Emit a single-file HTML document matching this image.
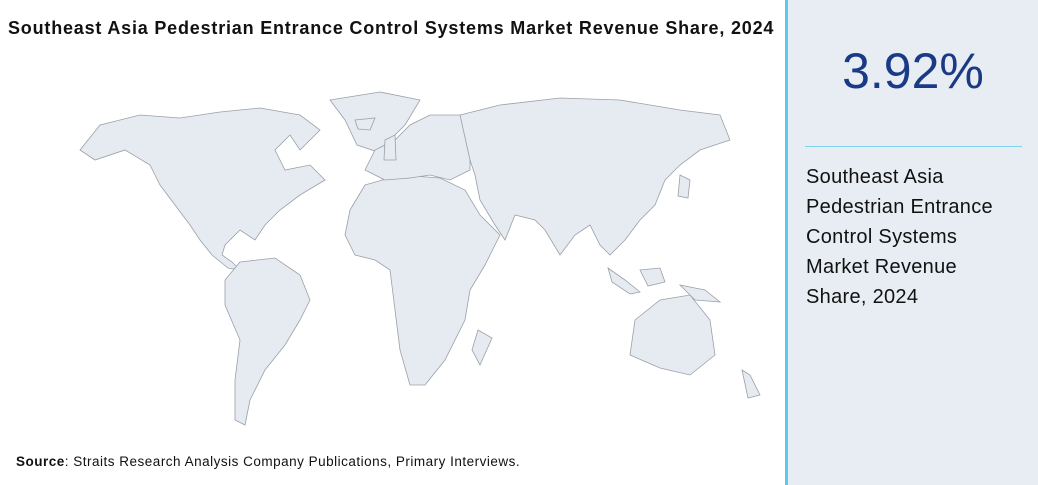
<!DOCTYPE html>
<html><head><meta charset="utf-8"><style>
body{margin:0;width:1038px;height:485px;background:#fff;font-family:"Liberation Sans",sans-serif;position:relative;overflow:hidden}
#title{position:absolute;left:8px;top:18px;font-size:18px;letter-spacing:0.8px;font-weight:bold;color:#111;white-space:nowrap}
#src{position:absolute;left:16px;top:454px;font-size:13.5px;letter-spacing:0.5px;color:#111;white-space:nowrap}
#divider{position:absolute;left:785px;top:0;width:3px;height:485px;background:#5bc8ee}
#panel{position:absolute;left:788px;top:0;width:250px;height:485px;background:#e8edf4}
#big{position:absolute;left:0;width:250px;top:42px;text-align:center;font-size:50px;color:#1a3a86}
#hr{position:absolute;left:17px;top:146px;width:217px;height:1px;background:#7fd2f0}
#desc{position:absolute;left:18px;top:162px;font-size:20px;letter-spacing:0.3px;line-height:30px;color:#111}
svg{position:absolute;left:0;top:0}
</style></head><body>
<div id="title">Southeast Asia Pedestrian Entrance Control Systems Market Revenue Share, 2024</div>
<svg width="785" height="450">
<g fill="#e6eaf1" stroke="#9aa0a8" stroke-width="0.8">
<polygon points="80,150 100,125 140,115 180,118 220,112 260,108 300,115 320,130 300,150 290,135 275,150 285,170 310,165 325,180 300,195 280,210 265,225 255,240 240,230 225,245 222,255 232,262 240,270 228,268 212,255 200,240 190,225 175,205 160,185 150,165 125,150 95,160"/>
<polygon points="330,100 380,92 420,100 405,125 378,152 357,145 345,120"/>
<polygon points="240,262 275,258 300,275 310,300 300,320 285,345 265,370 250,400 245,425 235,420 235,380 240,340 225,305 225,280"/>
<polygon points="350,210 365,185 400,175 440,178 465,190 480,215 500,235 485,265 470,290 465,320 445,360 425,385 410,385 400,350 395,310 390,270 375,260 355,255 345,235"/>
<polygon points="478,330 492,338 480,365 472,350"/>
<polygon points="365,170 375,150 395,140 410,125 430,115 460,115 470,130 470,170 450,180 430,175 410,178 385,180"/>
<polygon points="385,140 395,135 396,160 384,160"/>
<polygon points="355,120 375,118 370,130 358,129"/>
<polygon points="460,115 500,105 560,98 620,100 680,110 720,115 730,140 700,150 680,165 665,180 655,205 640,220 625,240 610,255 600,245 590,225 575,235 560,255 545,230 535,220 515,215 505,240 495,225 480,200 475,175 470,160"/>
<polygon points="680,175 690,180 688,198 678,196"/>
<polygon points="608,268 625,280 640,292 630,294 612,282"/>
<polygon points="640,270 660,268 665,282 648,286"/>
<polygon points="680,285 705,290 720,302 695,300"/>
<polygon points="635,320 660,300 690,295 710,320 715,355 690,375 660,368 630,355"/>
<polygon points="742,370 750,375 760,395 748,398"/>
</g></svg>
<div id="src"><b>Source</b>: Straits Research Analysis Company Publications, Primary Interviews.</div>
<div id="divider"></div>
<div id="panel">
<div id="big">3.92%</div>
<div id="hr"></div>
<div id="desc">Southeast Asia<br>Pedestrian Entrance<br>Control Systems<br>Market Revenue<br>Share, 2024</div>
</div>
</body></html>
